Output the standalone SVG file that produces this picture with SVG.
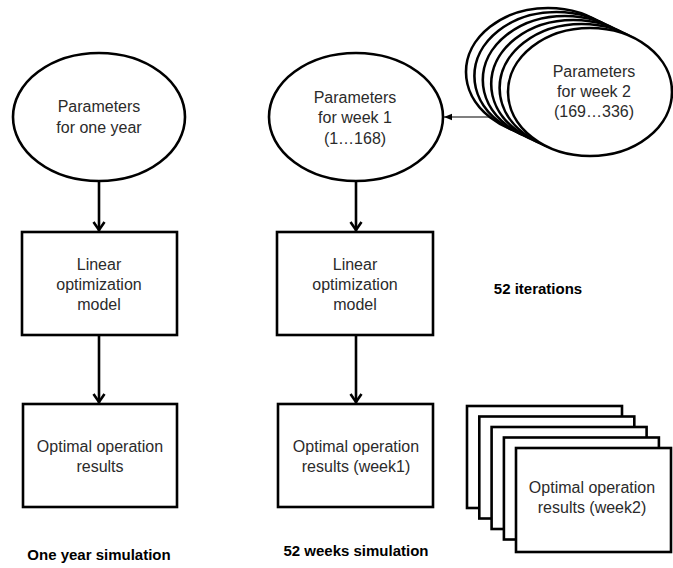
<svg xmlns="http://www.w3.org/2000/svg" width="673" height="568" viewBox="0 0 673 568">
<style>
  .shape { fill: #ffffff; stroke: #000000; stroke-width: 2.6; }
  .txt { font-family: "Liberation Sans", Arial, sans-serif; font-size: 16px; fill: #2b2b2b; text-anchor: middle; }
  .bold { font-family: "Liberation Sans", Arial, sans-serif; font-size: 15px; font-weight: bold; fill: #000000; text-anchor: middle; }
  .conn { stroke: #000000; stroke-width: 2.6; fill: none; }
  .thin { stroke: #000000; stroke-width: 1.2; fill: none; }
</style>
<defs>
  <marker id="chev" viewBox="-12 -8 14 16" refX="0" refY="0" markerWidth="14" markerHeight="16" markerUnits="userSpaceOnUse" orient="auto">
    <path d="M-9,-5.5 L-1,0 L-9,5.5" fill="none" stroke="#000" stroke-width="2.6"/>
  </marker>
  <marker id="tri" viewBox="0 -5 10 10" refX="10" refY="0" markerWidth="9" markerHeight="8" markerUnits="userSpaceOnUse" orient="auto">
    <path d="M0,-4 L10,0 L0,4 Z" fill="#000"/>
  </marker>
</defs>
<rect width="673" height="568" fill="#ffffff"/>

<g id="connectors">
  <line class="conn" x1="99" y1="181" x2="99" y2="231" marker-end="url(#chev)"/>
  <line class="conn" x1="99" y1="335" x2="99" y2="403" marker-end="url(#chev)"/>
  <line class="conn" x1="356" y1="181" x2="356" y2="231" marker-end="url(#chev)"/>
  <line class="conn" x1="356" y1="335" x2="356" y2="403" marker-end="url(#chev)"/>
  <line class="thin" x1="490" y1="117" x2="444" y2="117" marker-end="url(#tri)"/>
</g>

<g id="params-year">
  <ellipse class="shape" cx="99" cy="117" rx="86" ry="64"/>
  <text class="txt" x="99" y="112">Parameters</text>
  <text class="txt" x="99" y="133">for one year</text>
</g>

<g id="model-year">
  <rect class="shape" x="22" y="232" width="155" height="103"/>
  <text class="txt" x="99" y="270">Linear</text>
  <text class="txt" x="99" y="290">optimization</text>
  <text class="txt" x="99" y="310">model</text>
</g>

<g id="results-year">
  <rect class="shape" x="23" y="404" width="154" height="103"/>
  <text class="txt" x="100" y="452">Optimal operation</text>
  <text class="txt" x="100" y="472">results</text>
</g>

<g id="params-week1">
  <ellipse class="shape" cx="356" cy="117" rx="87" ry="64"/>
  <text class="txt" x="355" y="103">Parameters</text>
  <text class="txt" x="355" y="123">for week 1</text>
  <text class="txt" x="355" y="144">(1…168)</text>
</g>

<g id="model-week">
  <rect class="shape" x="277" y="232" width="156" height="103"/>
  <text class="txt" x="355" y="270">Linear</text>
  <text class="txt" x="355" y="290">optimization</text>
  <text class="txt" x="355" y="310">model</text>
</g>

<g id="results-week1">
  <rect class="shape" x="278" y="404" width="155" height="103"/>
  <text class="txt" x="356" y="452">Optimal operation</text>
  <text class="txt" x="356" y="472">results (week1)</text>
</g>

<g id="params-week2">
  <ellipse class="shape" cx="548" cy="72" rx="82" ry="64"/>
  <ellipse class="shape" cx="556.4" cy="76" rx="82" ry="64"/>
  <ellipse class="shape" cx="564.8" cy="80" rx="82" ry="64"/>
  <ellipse class="shape" cx="573.2" cy="84" rx="82" ry="64"/>
  <ellipse class="shape" cx="581.6" cy="88" rx="82" ry="64"/>
  <ellipse class="shape" cx="590" cy="92" rx="82" ry="64"/>
  <text class="txt" x="594" y="77">Parameters</text>
  <text class="txt" x="594" y="97">for week 2</text>
  <text class="txt" x="594" y="117">(169…336)</text>
</g>

<g id="results-week2">
  <rect class="shape" x="467" y="406" width="155" height="102"/>
  <rect class="shape" x="479.3" y="416.5" width="155" height="102"/>
  <rect class="shape" x="491.6" y="427" width="155" height="102"/>
  <rect class="shape" x="503.9" y="437.5" width="155" height="102"/>
  <rect class="shape" x="516" y="448" width="155" height="104"/>
  <text class="txt" x="592" y="493">Optimal operation</text>
  <text class="txt" x="592" y="513">results (week2)</text>
</g>

<g id="label-iterations">
  <text class="bold" x="538" y="294">52 iterations</text>
</g>
<g id="label-year">
  <text class="bold" x="99" y="560">One year simulation</text>
</g>
<g id="label-weeks">
  <text class="bold" x="356" y="556">52 weeks simulation</text>
</g>
</svg>
